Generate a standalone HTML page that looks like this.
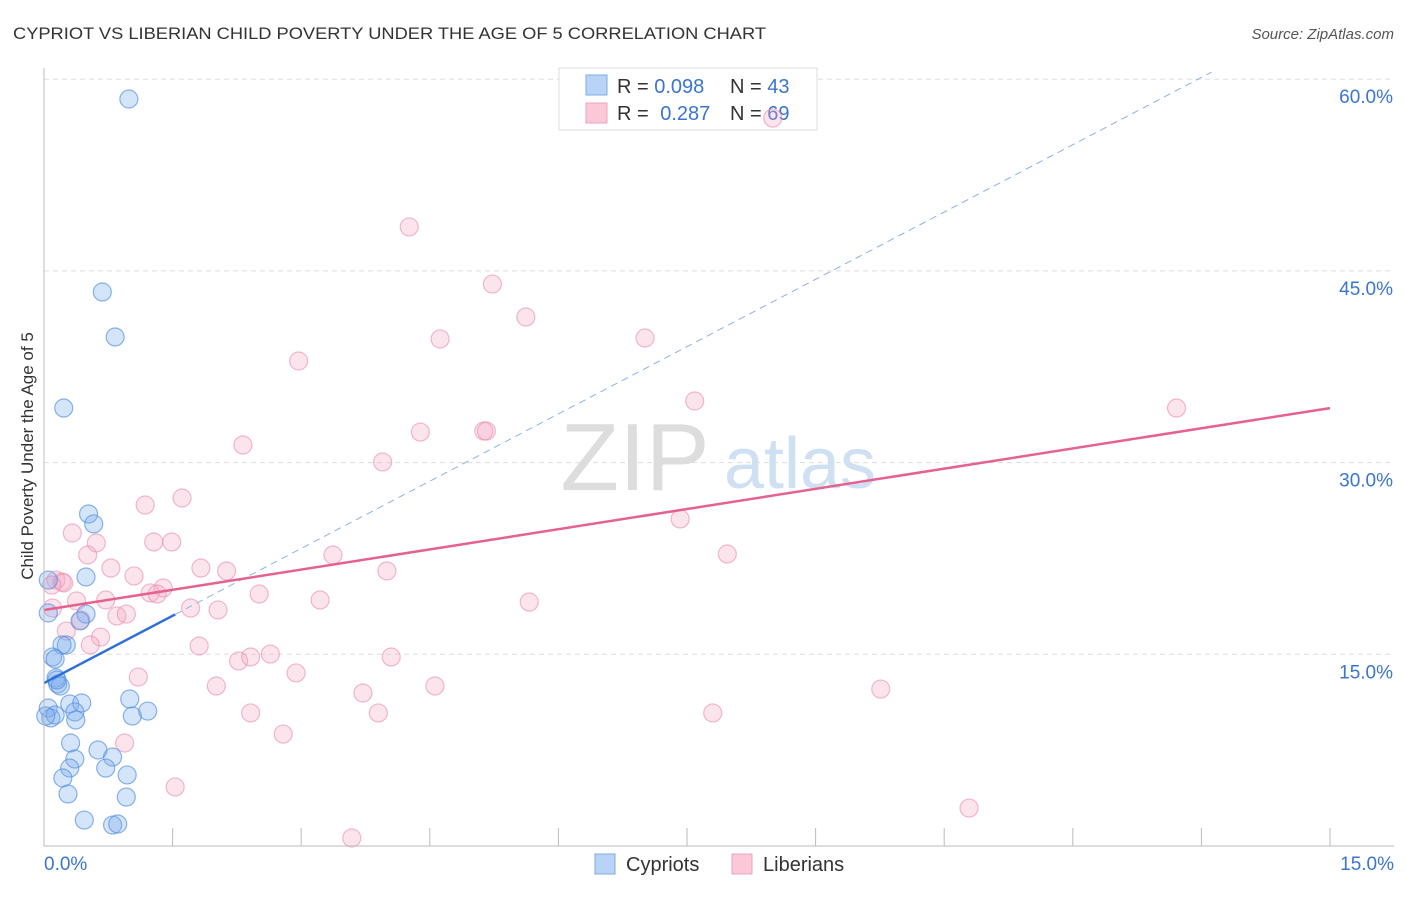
<!DOCTYPE html>
<html><head><meta charset="utf-8"><style>
body{margin:0;background:#fff;font-family:"Liberation Sans",sans-serif;}
svg text{font-family:"Liberation Sans",sans-serif;}
</style></head><body>
<svg id="chart" width="1406" height="892" xmlns="http://www.w3.org/2000/svg">
<text x="13" y="39" font-size="17" fill="#333" textLength="753" lengthAdjust="spacingAndGlyphs">CYPRIOT VS LIBERIAN CHILD POVERTY UNDER THE AGE OF 5 CORRELATION CHART</text>
<text x="1394" y="39" font-size="15" fill="#555" font-style="italic" text-anchor="end">Source: ZipAtlas.com</text>
<text transform="translate(33,456) rotate(-90)" font-size="17" fill="#333" text-anchor="middle">Child Poverty Under the Age of 5</text>
<g id="grid"></g>
<g>
<text x="635" y="490" font-size="96" fill="#ddd" font-family="Liberation Serif" text-anchor="middle">ZIP</text>
<text x="800" y="488" font-size="72" fill="#cfe0f3" text-anchor="middle">atlas</text>
</g>
<g>
<rect x="559" y="68" width="258" height="62" fill="#fff" stroke="#ddd"/>
<rect x="586" y="75" width="21" height="20" fill="#b8d3f5" stroke="#7eaee8"/>
<rect x="586" y="103" width="21" height="20" fill="#fbc8d8" stroke="#f0a0bc"/>
<text x="617" y="93" font-size="20" fill="#333">R = <tspan fill="#3a75d0">0.098</tspan></text>
<text x="730" y="93" font-size="20" fill="#333">N = <tspan fill="#3a75d0">43</tspan></text>
<text x="617" y="120" font-size="20" fill="#333">R = <tspan fill="#3a75d0" dx="6">0.287</tspan></text>
<text x="730" y="120" font-size="20" fill="#333">N = <tspan fill="#3a75d0">69</tspan></text>
</g>
<g id="pts"></g>
<g id="lines"></g>
<g id="axes"></g>
<g>
<rect x="595" y="854" width="20" height="20" fill="#b8d3f5" stroke="#7eaee8"/>
<text x="626" y="871" font-size="20" fill="#333">Cypriots</text>
<rect x="732" y="854" width="20" height="20" fill="#fbc8d8" stroke="#f0a0bc"/>
<text x="763" y="871" font-size="20" fill="#333">Liberians</text>
</g>
</svg>
<script>
const blueX=[0.99,0.68,0.83,0.23,0.52,0.58,0.49,0.49,0.42,0.05,0.26,0.21,0.10,0.13,0.14,0.16,0.19,0.05,0.30,0.44,0.36,0.37,0.08,0.13,1.00,1.03,1.21,0.31,0.63,0.80,0.36,0.30,0.72,0.22,0.97,0.28,0.96,0.47,0.80,0.86,0.05,0.02,0.15];
const blueY=[58.45,43.35,39.83,34.27,25.98,25.20,21.05,18.15,17.61,18.23,15.73,15.73,14.79,14.63,13.15,12.68,12.52,10.80,11.11,11.19,10.49,9.86,10.02,10.25,11.50,10.17,10.56,8.06,7.51,6.96,6.81,6.10,6.10,5.32,5.56,4.07,3.83,2.03,1.64,1.72,20.81,10.17,12.99];
const pinkX=[8.50,4.26,5.23,5.62,4.62,7.01,2.97,13.21,7.59,2.32,4.39,5.13,5.16,3.95,1.61,1.18,0.33,0.61,1.28,1.49,0.51,3.37,7.42,7.97,0.78,1.83,2.13,4.00,1.05,0.14,0.21,0.23,0.09,1.39,1.24,1.32,2.51,0.72,0.38,3.22,5.66,0.10,1.71,2.03,0.85,0.96,0.43,0.26,0.66,0.54,1.81,2.27,2.41,2.64,4.05,2.94,1.10,2.01,3.72,4.56,9.76,2.41,3.90,7.80,2.79,0.94,1.53,10.79,3.59];
const pinkY=[56.96,48.44,43.97,41.39,39.67,39.75,37.95,34.27,34.82,31.38,32.39,32.47,32.47,30.05,27.23,26.68,24.49,23.71,23.79,23.79,22.77,22.77,25.59,22.85,21.75,21.75,21.52,21.52,21.13,20.81,20.66,20.58,20.42,20.19,19.80,19.72,19.72,19.25,19.17,19.25,19.09,18.62,18.62,18.47,18.00,18.15,17.68,16.82,16.35,15.73,15.65,14.48,14.79,15.02,14.79,13.54,13.22,12.52,11.97,12.52,12.28,10.41,10.41,10.41,8.76,8.06,4.62,2.97,0.63];
const yTicks=[15,30,45,60];
const yTickLabels=["15.0%","30.0%","45.0%","60.0%"];
const xTicks=[0,1.5,3,4.5,6,7.5,9,10.5,12,13.5,15];
const blueTrend=[12.75,3.51];   // intercept, slope
const pinkTrend=[18.47,1.053];
const NS="http://www.w3.org/2000/svg";
const X=v=>44+v*1286/15, Y=v=>846-v*12.78;
function mk(tag,attrs,parent){const e=document.createElementNS(NS,tag);for(const k in attrs)e.setAttribute(k,attrs[k]);parent.appendChild(e);return e;}
const grid=document.getElementById('grid'),axes=document.getElementById('axes'),pts=document.getElementById('pts'),lines=document.getElementById('lines');
yTicks.forEach((t,i)=>{
 const l=mk('line',{x1:44,x2:1394,y1:Y(t),y2:Y(t),stroke:'#ddd','stroke-dasharray':'5,4'},grid);
 
 
 const tx=mk('text',{x:1393,y:Y(t)+24,'font-size':19,fill:'#3a75d0','text-anchor':'end'},axes);
 tx.textContent=yTickLabels[i];
 
 
});
const ax=mk('path',{d:'M44,68V846H1394',stroke:'#bbb',fill:'none'},axes);


xTicks.forEach(t=>{
 const l=mk('line',{x1:X(t),x2:X(t),y1:846,y2:828,stroke:'#bbb'},axes);
 
 
});
[[0,'0.0%','start',44],[15,'15.0%','end',1394]].forEach(a=>{
 const tx=mk('text',{x:a[3],y:870,'font-size':19,fill:'#3a75d0','text-anchor':a[2]},axes);
 tx.textContent=a[1];
 
 
});
pinkX.forEach((x,i)=>{
 const c=mk('circle',{cx:X(x),cy:Y(pinkY[i]),r:9,fill:'rgba(245,165,195,0.3)',stroke:'rgba(232,140,172,0.6)','stroke-width':1.2},pts);
 
 
});
blueX.forEach((x,i)=>{
 const c=mk('circle',{cx:X(x),cy:Y(blueY[i]),r:9,fill:'rgba(120,170,235,0.32)',stroke:'rgba(80,140,225,0.65)','stroke-width':1.2},pts);
 
 
});
const bEnd=1.53, bDash=13.62;
let l=mk('line',{x1:X(bEnd),y1:Y(blueTrend[0]+blueTrend[1]*bEnd),x2:X(bDash),y2:Y(blueTrend[0]+blueTrend[1]*bDash),stroke:'#8ab2e6','stroke-width':1,'stroke-dasharray':'7,5'},lines);


l=mk('line',{x1:X(0),y1:Y(blueTrend[0]),x2:X(bEnd),y2:Y(blueTrend[0]+blueTrend[1]*bEnd),stroke:'#2f6fd6','stroke-width':2.5},lines);


l=mk('line',{x1:X(0),y1:Y(pinkTrend[0]),x2:X(15),y2:Y(pinkTrend[0]+pinkTrend[1]*15),stroke:'#e5628f','stroke-width':2.5},lines);


</script>
</body></html>
